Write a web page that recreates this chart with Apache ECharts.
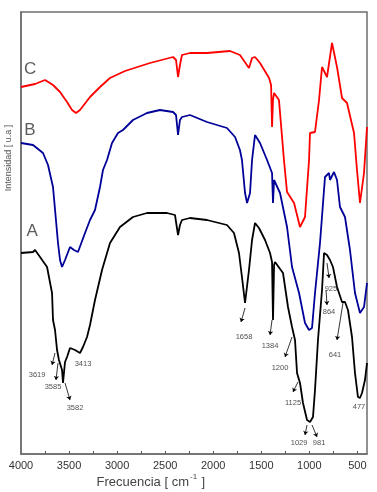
<!DOCTYPE html>
<html>
<head>
<meta charset="utf-8">
<script src="https://cdn.jsdelivr.net/npm/echarts@6/dist/echarts.min.js"></script>
<style>html,body{margin:0;padding:0;background:#fff}#c{width:377px;height:492px}</style>
</head>
<body>
<div id="c"></div>
<script>
// Tick labels and tick positions (wavenumber, cm^-1)
var xTickLabels = [4000, 3500, 3000, 2500, 2000, 1500, 1000, 500];
var xTickMarks = [3750, 3500, 3250, 3000, 2750, 2500, 2250, 2000, 1750, 1500, 1250, 1000, 750, 500];

// Spectrum C (red) : [wavenumber, intensity a.u.]
var curveC = [[4000,367],[3854,370],[3750,374],[3667,369],[3594,362],[3521,352],[3469,344],[3428,341],[3386,344],[3282,357],[3178,367],[3074,376],[2918,383],[2908,385],[2658,391],[2418,397],[2387,394],[2366,377],[2346,389],[2325,399],[2242,401],[2065,401],[1825,403],[1722,399],[1628,386],[1596,396],[1565,397],[1513,391],[1419,376],[1398,369],[1388,327],[1378,354],[1367,361],[1316,354],[1264,294],[1232,262],[1159,251],[1097,227],[1045,237],[1003,294],[993,321],[941,322],[899,354],[868,387],[816,377],[764,411],[712,387],[660,356],[608,351],[535,321],[504,284],[473,251],[431,281],[400,327]];

// Spectrum B (blue)
var curveB = [[4000,311],[3875,309],[3771,301],[3719,289],[3667,267],[3615,211],[3594,194],[3573,187],[3542,194],[3490,207],[3449,204],[3407,202],[3334,221],[3282,234],[3230,244],[3178,267],[3147,284],[3105,294],[3053,311],[2991,321],[2939,324],[2835,334],[2689,341],[2554,344],[2418,342],[2387,339],[2366,319],[2346,334],[2325,337],[2242,339],[2065,332],[1857,326],[1773,317],[1722,304],[1701,294],[1669,261],[1648,251],[1617,261],[1596,294],[1565,319],[1513,311],[1440,294],[1388,281],[1378,251],[1367,274],[1305,261],[1232,227],[1180,187],[1107,161],[1045,131],[1003,124],[972,126],[941,161],[889,211],[837,277],[795,281],[785,274],[743,282],[712,274],[681,247],[629,237],[577,204],[525,161],[473,141],[431,147],[400,171]];

// Spectrum A (black)
var curveA = [[4000,201],[3875,202],[3854,204],[3802,197],[3729,187],[3677,161],[3667,134],[3646,124],[3625,104],[3605,94],[3573,84],[3563,71],[3542,92],[3521,97],[3490,106],[3438,104],[3386,101],[3355,107],[3313,117],[3282,129],[3230,154],[3157,184],[3074,211],[2970,227],[2835,237],[2689,241],[2481,241],[2398,239],[2366,219],[2346,229],[2325,234],[2242,236],[2065,234],[1857,229],[1784,221],[1732,201],[1701,177],[1669,151],[1628,184],[1596,214],[1565,231],[1524,226],[1461,214],[1409,201],[1388,192],[1378,134],[1367,189],[1357,192],[1274,181],[1222,147],[1180,127],[1149,114],[1128,81],[1097,71],[1066,51],[1024,34],[993,32],[962,37],[941,64],[910,114],[868,164],[847,201],[816,199],[785,194],[754,187],[712,167],[660,152],[629,152],[598,144],[556,117],[525,81],[494,57],[473,56],[452,61],[421,74],[400,91]];

// Peak annotations: label text, label position, arrow start/end
var peakLabels = ['3619','3585','3582','3413','1658','1384','1200','1125','1029','981','925','864','641','477'];
var peakLabelPos = [[3833,79],[3667,67],[3438,46],[3355,90],[1680,117],[1409,108],[1305,86],[1170,51],[1107,11],[899,11],[775,165],[795,142],[733,99],[483,47]];
var peakArrows = [
  [[3646,101],[3677,89]],
  [[3615,91],[3636,74]],
  [[3542,71],[3490,54]],
  null,
  [[1669,146],[1711,132]],
  [[1388,134],[1409,119]],
  [[1180,117],[1253,97]],
  [[1118,72],[1170,62]],
  [[1024,29],[1045,19]],
  [[972,29],[920,17]],
  [[816,191],[795,176]],
  [[826,164],[816,149]],
  [[650,151],[712,114]],
  null
];

// Curve letters
var curveNames = ['C','B','A'];
var curveNamePos = [[3906,385],[3906,324],[3885,223]];

var chart = echarts.init(document.getElementById('c'), null, {renderer:'canvas'});

var arrowData = [];
peakArrows.forEach(function(a){ if(a){ arrowData.push([{coord:a[0]},{coord:a[1]}]); } });
var labelData = peakLabelPos.map(function(p,i){ return [p[0],p[1],peakLabels[i]]; });
var nameData = curveNamePos.map(function(p,i){ return [p[0],p[1],curveNames[i]]; });

var option = {
  animation: false,
  backgroundColor: '#fff',
  grid: {left: 21, right: 10, top: 12, bottom: 38, show: true, borderColor: '#6e6e6e', borderWidth: 1.5},
  xAxis: {
    type: 'value', min: 400, max: 4000, inverse: true,
    splitLine: {show: false},
    axisLine: {show: true, lineStyle: {color: '#6e6e6e', width: 1.5}},
    axisTick: {show: true, inside: true, length: 3, customValues: xTickMarks, lineStyle: {color: '#555', width: 1}},
    axisLabel: {show: true, customValues: xTickLabels, formatter: function(v){ return String(v); }, fontSize: 11, color: '#333', fontFamily: 'Liberation Sans, Arial, sans-serif', margin: 6}
  },
  yAxis: {
    type: 'value', min: 0, max: 442,
    splitLine: {show: false},
    axisLine: {show: true, lineStyle: {color: '#6e6e6e', width: 1.5}},
    axisTick: {show: false},
    axisLabel: {show: false}
  },
  series: [
    {type: 'line', name: 'C', data: curveC, showSymbol: false, symbol: 'none', lineStyle: {color: '#ff0000', width: 1.8}, z: 3},
    {type: 'line', name: 'B', data: curveB, showSymbol: false, symbol: 'none', lineStyle: {color: '#000099', width: 1.8}, z: 3},
    {type: 'line', name: 'A', data: curveA, showSymbol: false, symbol: 'none', lineStyle: {color: '#000000', width: 1.8}, z: 4,
      markLine: {silent: true, symbol: ['none','arrow'], symbolSize: 4, label: {show: false},
        lineStyle: {color: '#000', width: 0.8, type: 'solid'}, emphasis: {disabled: true}, data: arrowData}
    },
    {type: 'scatter', data: labelData, symbolSize: 0, silent: true, z: 5,
      label: {show: true, position: 'inside', formatter: function(p){return p.data[2];}, fontSize: 7.5, color: '#222', fontFamily: 'Liberation Sans, Arial, sans-serif'}
    },
    {type: 'scatter', data: nameData, symbolSize: 0, silent: true, z: 5,
      label: {show: true, position: 'inside', formatter: function(p){return p.data[2];}, fontSize: 17, color: '#333', fontFamily: 'Liberation Sans, Arial, sans-serif'}
    }
  ],
  graphic: [
    {type: 'text', x: 189, y: 482, style: {text: 'Frecuencia [ cm', fill: '#444', font: '13px "Liberation Sans", Arial, sans-serif', align: 'right', verticalAlign: 'middle'}},
    {type: 'text', x: 190, y: 477, style: {text: '-1', fill: '#444', font: '8px "Liberation Sans", Arial, sans-serif', align: 'left', verticalAlign: 'middle'}},
    {type: 'text', x: 198, y: 482, style: {text: ' ]', fill: '#444', font: '13px "Liberation Sans", Arial, sans-serif', align: 'left', verticalAlign: 'middle'}},
    {type: 'text', x: 9, y: 158, rotation: Math.PI/2, style: {text: 'Intensidad [ u.a ]', fill: '#555', font: '9px "Liberation Sans", Arial, sans-serif', align: 'center', verticalAlign: 'middle'}}
  ]
};
chart.setOption(option);
</script>
</body>
</html>
